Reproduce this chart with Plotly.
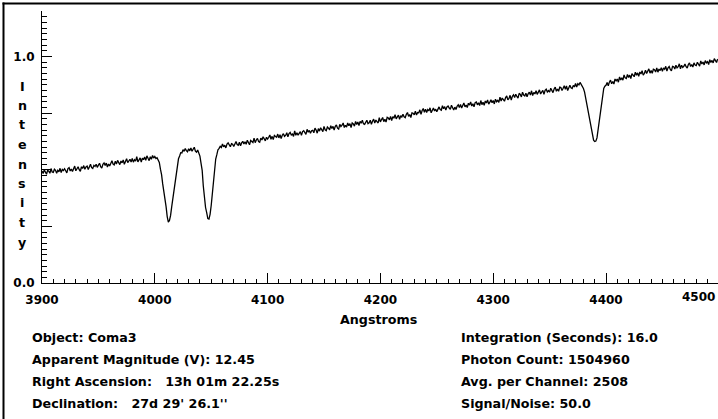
import plotly.graph_objects as go

# ---- data (one value per channel, 1 Angstrom per channel, from 3900 A) ----
wavelength_start = 3900
wavelength_step = 1
intensity = [
    0.494, 0.483, 0.499, 0.489, 0.480, 0.497, 0.493, 0.484, 0.505, 0.490,
    0.488, 0.502, 0.497, 0.484, 0.497, 0.491, 0.506, 0.487, 0.501, 0.496,
    0.504, 0.495, 0.486, 0.505, 0.509, 0.494, 0.503, 0.492, 0.506, 0.516,
    0.495, 0.505, 0.513, 0.500, 0.493, 0.513, 0.505, 0.518, 0.502, 0.512,
    0.516, 0.501, 0.513, 0.524, 0.509, 0.505, 0.519, 0.514, 0.524, 0.510,
    0.520, 0.528, 0.513, 0.507, 0.524, 0.530, 0.519, 0.529, 0.512, 0.525,
    0.516, 0.531, 0.539, 0.525, 0.521, 0.537, 0.525, 0.541, 0.533, 0.522,
    0.538, 0.530, 0.543, 0.524, 0.536, 0.548, 0.531, 0.537, 0.546, 0.534,
    0.550, 0.533, 0.544, 0.538, 0.557, 0.534, 0.546, 0.552, 0.533, 0.551,
    0.544, 0.556, 0.541, 0.561, 0.550, 0.540, 0.557, 0.546, 0.563, 0.551,
    0.558, 0.549, 0.553, 0.541, 0.532, 0.502, 0.478, 0.437, 0.407, 0.368,
    0.337, 0.293, 0.269, 0.276, 0.298, 0.337, 0.373, 0.418, 0.452, 0.493,
    0.517, 0.548, 0.560, 0.575, 0.574, 0.588, 0.581, 0.593, 0.584, 0.579,
    0.592, 0.583, 0.596, 0.581, 0.590, 0.599, 0.582, 0.577, 0.587, 0.574,
    0.560, 0.528, 0.497, 0.428, 0.377, 0.333, 0.310, 0.284, 0.282, 0.303,
    0.342, 0.398, 0.467, 0.508, 0.547, 0.566, 0.588, 0.594, 0.603, 0.598,
    0.613, 0.601, 0.608, 0.596, 0.613, 0.618, 0.606, 0.601, 0.615, 0.612,
    0.602, 0.616, 0.624, 0.611, 0.608, 0.621, 0.605, 0.618, 0.625, 0.613,
    0.623, 0.612, 0.630, 0.620, 0.610, 0.629, 0.626, 0.620, 0.639, 0.619,
    0.631, 0.638, 0.624, 0.621, 0.639, 0.631, 0.645, 0.631, 0.627, 0.643,
    0.635, 0.643, 0.653, 0.634, 0.647, 0.633, 0.651, 0.646, 0.643, 0.657,
    0.640, 0.654, 0.637, 0.652, 0.659, 0.647, 0.651, 0.663, 0.645, 0.659,
    0.664, 0.653, 0.657, 0.647, 0.671, 0.652, 0.663, 0.652, 0.663, 0.668,
    0.651, 0.668, 0.672, 0.660, 0.656, 0.678, 0.665, 0.673, 0.661, 0.672,
    0.674, 0.663, 0.683, 0.675, 0.661, 0.681, 0.670, 0.685, 0.676, 0.668,
    0.691, 0.676, 0.672, 0.688, 0.683, 0.676, 0.694, 0.682, 0.691, 0.675,
    0.691, 0.697, 0.683, 0.679, 0.700, 0.690, 0.696, 0.706, 0.686, 0.696,
    0.688, 0.706, 0.694, 0.703, 0.686, 0.706, 0.702, 0.692, 0.713, 0.699,
    0.710, 0.695, 0.713, 0.705, 0.718, 0.702, 0.700, 0.712, 0.718, 0.703,
    0.707, 0.718, 0.700, 0.714, 0.723, 0.706, 0.719, 0.712, 0.706, 0.729,
    0.711, 0.721, 0.730, 0.712, 0.722, 0.710, 0.731, 0.728, 0.720, 0.735,
    0.717, 0.734, 0.727, 0.743, 0.724, 0.733, 0.741, 0.722, 0.738, 0.732,
    0.744, 0.733, 0.729, 0.744, 0.752, 0.735, 0.743, 0.730, 0.751, 0.749,
    0.742, 0.758, 0.741, 0.752, 0.751, 0.764, 0.744, 0.761, 0.770, 0.753,
    0.767, 0.752, 0.765, 0.759, 0.773, 0.751, 0.766, 0.772, 0.759, 0.767,
    0.756, 0.772, 0.777, 0.765, 0.762, 0.782, 0.769, 0.778, 0.763, 0.777,
    0.781, 0.772, 0.766, 0.784, 0.769, 0.763, 0.776, 0.765, 0.780, 0.786,
    0.774, 0.788, 0.772, 0.784, 0.794, 0.777, 0.785, 0.774, 0.793, 0.785,
    0.799, 0.781, 0.791, 0.777, 0.796, 0.799, 0.786, 0.795, 0.783, 0.805,
    0.787, 0.797, 0.784, 0.803, 0.794, 0.808, 0.789, 0.798, 0.808, 0.795,
    0.805, 0.790, 0.811, 0.800, 0.806, 0.797, 0.820, 0.803, 0.816, 0.809,
    0.802, 0.818, 0.825, 0.808, 0.814, 0.828, 0.807, 0.824, 0.830, 0.818,
    0.833, 0.823, 0.816, 0.837, 0.832, 0.821, 0.842, 0.829, 0.825, 0.837,
    0.822, 0.835, 0.842, 0.829, 0.848, 0.827, 0.841, 0.834, 0.848, 0.832,
    0.843, 0.852, 0.834, 0.841, 0.850, 0.832, 0.850, 0.855, 0.843, 0.849,
    0.842, 0.859, 0.847, 0.840, 0.856, 0.864, 0.846, 0.856, 0.846, 0.864,
    0.862, 0.849, 0.859, 0.870, 0.855, 0.869, 0.849, 0.865, 0.872, 0.861,
    0.858, 0.872, 0.865, 0.880, 0.865, 0.879, 0.874, 0.885, 0.877, 0.865,
    0.858, 0.842, 0.815, 0.785, 0.755, 0.725, 0.695, 0.668, 0.646, 0.630,
    0.624, 0.626, 0.640, 0.675, 0.715, 0.755, 0.790, 0.830, 0.858, 0.868,
    0.872, 0.885, 0.870, 0.886, 0.895, 0.879, 0.889, 0.878, 0.900, 0.892,
    0.900, 0.886, 0.909, 0.896, 0.905, 0.895, 0.918, 0.905, 0.902, 0.920,
    0.907, 0.917, 0.902, 0.924, 0.917, 0.910, 0.930, 0.917, 0.927, 0.912,
    0.931, 0.922, 0.937, 0.917, 0.924, 0.939, 0.924, 0.934, 0.945, 0.926,
    0.937, 0.925, 0.943, 0.941, 0.931, 0.949, 0.930, 0.944, 0.937, 0.950,
    0.934, 0.949, 0.943, 0.956, 0.935, 0.949, 0.955, 0.942, 0.936, 0.956,
    0.954, 0.944, 0.961, 0.949, 0.954, 0.967, 0.945, 0.961, 0.951, 0.956,
    0.966, 0.954, 0.948, 0.964, 0.971, 0.955, 0.964, 0.953, 0.971, 0.962,
    0.959, 0.974, 0.968, 0.957, 0.980, 0.966, 0.975, 0.962, 0.981, 0.971,
    0.976, 0.964, 0.985, 0.973, 0.982, 0.971, 0.990, 0.979, 0.973, 0.988,
]
wavelength = [wavelength_start + wavelength_step * i for i in range(len(intensity))]

x_tick_values = [3900, 4000, 4100, 4200, 4300, 4400]
x_tick_labels = ["3900", "4000", "4100", "4200", "4300", "4400"]
x_last_label = "4500"
y_tick_values = [0.0, 0.25, 0.5, 0.75, 1.0]
y_tick_labels = ["0.0", "", "", "", "1.0"]
y_title_letters = ["I", "n", "t", "e", "n", "s", "i", "t", "y"]
x_title = "Angstroms"
info_left = [
    "Object: Coma3",
    "Apparent Magnitude (V): 12.45",
    "Right Ascension:   13h 01m 22.25s",
    "Declination:   27d 29' 26.1''",
]
info_right = [
    "Integration (Seconds): 16.0",
    "Photon Count: 1504960",
    "Avg. per Channel: 2508",
    "Signal/Noise: 50.0",
]

# ---- geometry (pixels) ----
W, H = 718, 419
AX_L, AX_R, AX_T, AX_B = 42, 718, 11, 283   # plot area in pixels


def px(xp):
    return xp / W


def py(yp):
    return 1 - yp / H


FAMILY = "DejaVu Sans, Verdana, sans-serif"
FONT = dict(family=FAMILY, size=12.7, color="black", weight="bold")
TICKFONT = dict(family=FAMILY, size=12, color="black", weight="bold")

fig = go.Figure()
fig.add_trace(go.Scatter(x=wavelength, y=intensity, mode="lines",
                         line=dict(color="black", width=1.3), hoverinfo="skip",
                         showlegend=False))

annotations = []
for i, ch in enumerate(y_title_letters):
    annotations.append(dict(text=ch, x=px(22), y=py(86 + 19.5 * i), xref="paper", yref="paper",
                            showarrow=False, xanchor="center", yanchor="middle", font=FONT))
annotations.append(dict(text=x_title, x=px(378), y=py(319), xref="paper", yref="paper",
                        showarrow=False, xanchor="center", yanchor="middle", font=FONT))
annotations.append(dict(text=x_last_label, x=px(717), y=py(297), xref="paper", yref="paper",
                        showarrow=False, xanchor="right", yanchor="middle", font=TICKFONT))
for i, t in enumerate(info_left):
    annotations.append(dict(text=t, x=px(30), y=py(337 + 22.3 * i), xref="paper", yref="paper",
                            showarrow=False, xanchor="left", yanchor="middle", font=FONT))
for i, t in enumerate(info_right):
    annotations.append(dict(text=t, x=px(459), y=py(337 + 22.3 * i), xref="paper", yref="paper",
                            showarrow=False, xanchor="left", yanchor="middle", font=FONT))

shapes = [
    dict(type="line", xref="paper", yref="paper", x0=px(3.5), x1=px(3.5), y0=py(2.5), y1=0,
         line=dict(color="black", width=2)),
    dict(type="line", xref="paper", yref="paper", x0=px(2.5), x1=1, y0=py(3.5), y1=py(3.5),
         line=dict(color="black", width=2)),
]

fig.update_layout(
    width=W, height=H,
    margin=dict(l=0, r=0, t=0, b=0, pad=0),
    paper_bgcolor="white", plot_bgcolor="white",
    font=FONT,
    showlegend=False,
    annotations=annotations,
    shapes=shapes,
    xaxis=dict(
        domain=[AX_L / W, AX_R / W], automargin=False,
        range=[3900, 3900 + (AX_R - AX_L) / 1.128], showgrid=False, zeroline=False,
        showline=True, linecolor="black", linewidth=1,
        tickmode="array", tickvals=x_tick_values, ticktext=x_tick_labels,
        ticks="inside", ticklen=10, tickcolor="black", tickwidth=1,
        tickfont=TICKFONT, ticklabelstandoff=6,
        minor=dict(dtick=10, tick0=3900, ticks="inside", ticklen=4, tickcolor="black", tickwidth=1, showgrid=False),
    ),
    yaxis=dict(
        domain=[1 - AX_B / H, 1 - AX_T / H], automargin=False,
        range=[0, 1.2], showgrid=False, zeroline=False,
        showline=True, linecolor="black", linewidth=1,
        tickmode="array", tickvals=y_tick_values, ticktext=y_tick_labels,
        ticks="inside", ticklen=10, tickcolor="black", tickwidth=1,
        tickfont=TICKFONT, ticklabelstandoff=4,
        minor=dict(dtick=0.025, tick0=0, ticks="inside", ticklen=5, tickcolor="black", tickwidth=1, showgrid=False),
    ),
)

fig.write_html("out.html", config={"displayModeBar": False},
               post_script="document.body.style.margin='0';")
